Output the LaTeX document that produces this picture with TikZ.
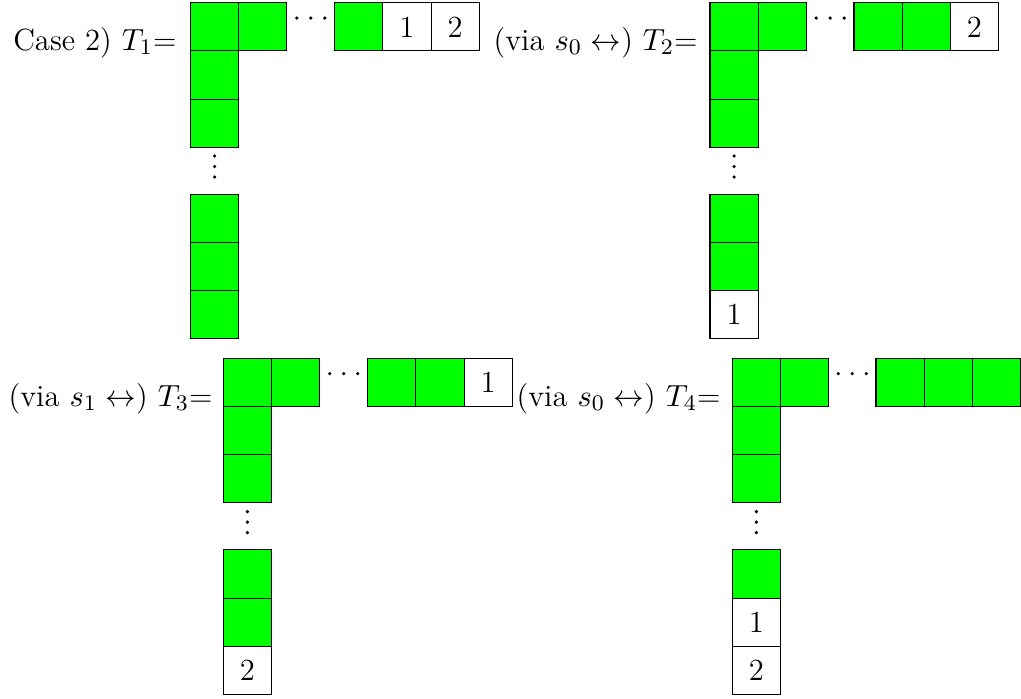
\documentclass[tikz,border=0pt]{standalone}
\usepackage{amsmath}
\usepackage{tikz}
\usetikzlibrary{positioning}

\definecolor{cellgreen}{RGB}{0,255,0}

\begin{document}
\begin{tikzpicture}[
  x=0.3584pt, y=-0.3584pt,
  every node/.style={font=\fontsize{11}{13.6}\selectfont},
  box/.style={rectangle, draw=black, fill=cellgreen, minimum size=17.27pt, inner sep=0pt, outer sep=0pt},
  numbox/.style={box, fill=white},
  caption/.style={anchor=base east, inner sep=0pt}
]

\useasboundingbox (0,0) rectangle (1021,698);

% T1
\node[caption] (c1) at (177,50) {Case 2) $T_1$=};
\node[box, anchor=north west] (a11) at (190.5,2.7) {};
\node[box, right=0pt of a11] (a12) {};
\foreach \k in {-1,0,1} \fill (310.8+14*\k,18) circle (1.8);
\node[box, anchor=north west] (a13) at (334.7,2.7) {};
\node[numbox, right=0pt of a13] (a14) {1};
\node[numbox, right=0pt of a14] (a15) {2};
\node[box, below=0pt of a11] (a21) {};
\node[box, below=0pt of a21] (a31) {};
\foreach \k in {0,1,2} \fill (214.6,156+10.5*\k) circle (1.8);
\node[box, anchor=north west] (a41) at (190.5,194.3) {};
\node[box, below=0pt of a41] (a51) {};
\node[box, below=0pt of a51] (a61) {};

% T2
\node[caption] (c2) at (698,50) {(via $s_0 \leftrightarrow$) $T_2$=};
\node[box, anchor=north west] (b11) at (710,2.7) {};
\node[box, right=0pt of b11] (b12) {};
\foreach \k in {-1,0,1} \fill (830.2+14*\k,18) circle (1.8);
\node[box, anchor=north west] (b13) at (854,2.7) {};
\node[box, right=0pt of b13] (b14) {};
\node[numbox, right=0pt of b14] (b15) {2};
\node[box, below=0pt of b11] (b21) {};
\node[box, below=0pt of b21] (b31) {};
\foreach \k in {0,1,2} \fill (734.1,156+10.5*\k) circle (1.8);
\node[box, anchor=north west] (b41) at (710,194.3) {};
\node[box, below=0pt of b41] (b51) {};
\node[numbox, below=0pt of b51] (b61) {1};

% T3
\node[caption] (c3) at (213,406) {(via $s_1 \leftrightarrow$) $T_3$=};
\node[box, anchor=north west] (c11) at (223.3,358.3) {};
\node[box, right=0pt of c11] (c12) {};
\foreach \k in {-1,0,1} \fill (343.8+14*\k,373.6) circle (1.8);
\node[box, anchor=north west] (c13) at (367.7,358.3) {};
\node[box, right=0pt of c13] (c14) {};
\node[numbox, right=0pt of c14] (c15) {1};
\node[box, below=0pt of c11] (c21) {};
\node[box, below=0pt of c21] (c31) {};
\foreach \k in {0,1,2} \fill (247.4,511.6+10.5*\k) circle (1.8);
\node[box, anchor=north west] (c41) at (223.3,549.9) {};
\node[box, below=0pt of c41] (c51) {};
\node[numbox, below=0pt of c51] (c61) {2};

% T4
\node[caption] (c4) at (721,406) {(via $s_0 \leftrightarrow$) $T_4$=};
\node[box, anchor=north west] (d11) at (732.3,358.3) {};
\node[box, right=0pt of d11] (d12) {};
\foreach \k in {-1,0,1} \fill (852.3+14*\k,373.6) circle (1.8);
\node[box, anchor=north west] (d13) at (876,358.3) {};
\node[box, right=0pt of d13] (d14) {};
\node[box, right=0pt of d14] (d15) {};
\node[box, below=0pt of d11] (d21) {};
\node[box, below=0pt of d21] (d31) {};
\foreach \k in {0,1,2} \fill (756.4,511.6+10.5*\k) circle (1.8);
\node[box, anchor=north west] (d41) at (732.3,549.9) {};
\node[numbox, below=0pt of d41] (d51) {1};
\node[numbox, below=0pt of d51] (d61) {2};

\end{tikzpicture}
\end{document}
